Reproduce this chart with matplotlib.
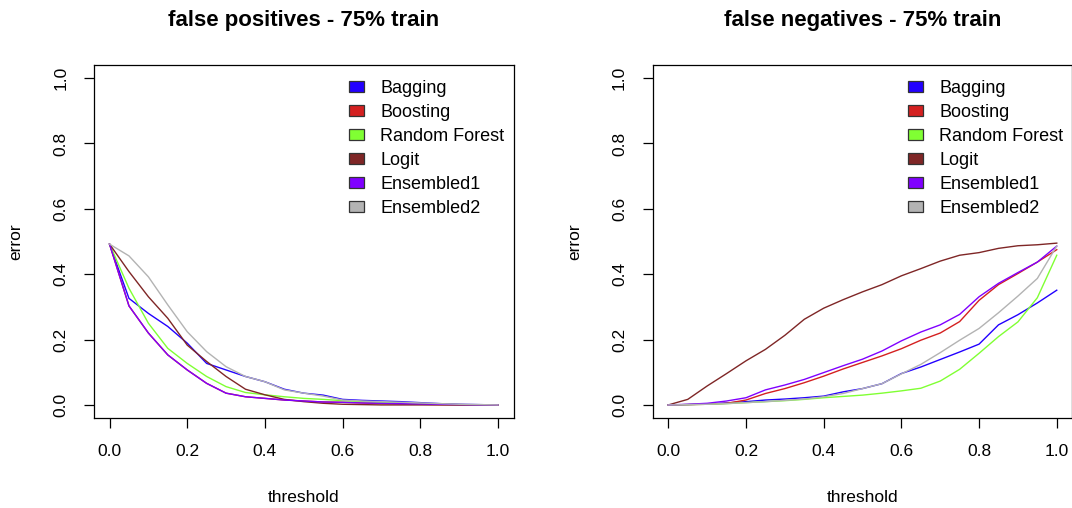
import numpy as np
import matplotlib.pyplot as plt
from matplotlib.patches import Patch

plt.rcParams['font.family'] = ['Liberation Sans', 'DejaVu Sans']

threshold = np.round(np.arange(0, 1.0001, 0.05), 2)
models = ["Bagging", "Boosting", "Random Forest", "Logit", "Ensembled1", "Ensembled2"]
colors = ["#2200ff", "#d42020", "#80ff33", "#7f2626", "#8000ff", "#b3b3b3"]

# false positives (left)
fp_bagging = [0.492, 0.326, 0.28, 0.24, 0.189, 0.127, 0.107, 0.087, 0.071, 0.048, 0.036,
              0.03, 0.017, 0.014, 0.012, 0.01, 0.007, 0.004, 0.002, 0.001, 0.0]
fp_boosting = [0.492, 0.303, 0.22, 0.153, 0.107, 0.066, 0.036, 0.025, 0.02, 0.015, 0.012,
               0.009, 0.008, 0.006, 0.004, 0.003, 0.002, 0.001, 0.0, 0.0, 0.0]
fp_rf = [0.492, 0.357, 0.25, 0.173, 0.127, 0.087, 0.056, 0.038, 0.031, 0.025, 0.02,
         0.017, 0.013, 0.01, 0.008, 0.006, 0.004, 0.002, 0.001, 0.0, 0.0]
fp_logit = [0.492, 0.408, 0.331, 0.265, 0.183, 0.133, 0.087, 0.048, 0.031, 0.017, 0.01,
            0.005, 0.002, 0.001, 0.0, 0.0, 0.0, 0.0, 0.0, 0.0, 0.0]
fp_ens1 = [0.492, 0.303, 0.22, 0.153, 0.107, 0.066, 0.036, 0.025, 0.02, 0.015, 0.012,
           0.009, 0.008, 0.006, 0.005, 0.004, 0.003, 0.002, 0.001, 0.0, 0.0]
fp_ens2 = [0.492, 0.456, 0.392, 0.306, 0.224, 0.163, 0.117, 0.087, 0.071, 0.046, 0.036,
           0.027, 0.015, 0.012, 0.01, 0.008, 0.006, 0.004, 0.002, 0.001, 0.0]

# false negatives (right)
fn_bagging = [0.0, 0.001, 0.003, 0.006, 0.01, 0.015, 0.018, 0.022, 0.027, 0.04, 0.05,
              0.065, 0.096, 0.116, 0.139, 0.162, 0.186, 0.245, 0.276, 0.312, 0.351]
fn_boosting = [0.0, 0.001, 0.002, 0.005, 0.015, 0.035, 0.05, 0.068, 0.088, 0.11, 0.13,
               0.15, 0.172, 0.198, 0.22, 0.255, 0.32, 0.368, 0.402, 0.437, 0.475]
fn_rf = [0.0, 0.001, 0.002, 0.004, 0.007, 0.01, 0.013, 0.017, 0.022, 0.026, 0.03,
         0.036, 0.043, 0.051, 0.073, 0.109, 0.158, 0.209, 0.254, 0.328, 0.458]
fn_logit = [0.0, 0.017, 0.058, 0.096, 0.135, 0.17, 0.213, 0.262, 0.296, 0.322, 0.346,
            0.368, 0.395, 0.417, 0.44, 0.458, 0.466, 0.479, 0.487, 0.49, 0.495]
fn_ens1 = [0.0, 0.002, 0.005, 0.012, 0.022, 0.046, 0.061, 0.078, 0.099, 0.12, 0.14,
           0.165, 0.196, 0.223, 0.245, 0.277, 0.331, 0.372, 0.405, 0.437, 0.486]
fn_ens2 = [0.0, 0.001, 0.002, 0.004, 0.007, 0.01, 0.014, 0.018, 0.025, 0.035, 0.05,
           0.065, 0.095, 0.124, 0.16, 0.198, 0.234, 0.282, 0.333, 0.387, 0.486]

panels = [
    ("false positives - 75% train",
     [fp_bagging, fp_boosting, fp_rf, fp_logit, fp_ens1, fp_ens2]),
    ("false negatives - 75% train",
     [fn_bagging, fn_boosting, fn_rf, fn_logit, fn_ens1, fn_ens2]),
]

W, H = 1072, 508
fig = plt.figure(figsize=(W / 100, H / 100), dpi=100)
lefts = [94, 652.8]
for (title, series), lpx in zip(panels, lefts):
    ax = fig.add_axes([lpx / W, (H - 418) / H, 419.5 / W, 353 / H])
    for vals, c in zip(series, colors):
        ax.plot(threshold, vals, color=c, lw=1.0)
    ax.set_xlim(-0.04, 1.04)
    ax.set_ylim(-0.04, 1.04)
    ticks = [0.0, 0.2, 0.4, 0.6, 0.8, 1.0]
    ax.set_xticks(ticks)
    ax.set_yticks(ticks)
    ax.set_xticklabels(["%.1f" % t for t in ticks])
    ax.set_yticklabels(["%.1f" % t for t in ticks], rotation=90, va='center')
    ax.tick_params(length=7.5, width=0.9, labelsize=12.5, pad=11)
    for s in ax.spines.values():
        s.set_linewidth(0.9)
    ax.set_title(title, fontsize=16, fontweight='bold', pad=28)
    ax.set_xlabel("threshold", fontsize=12.5)
    ax.set_ylabel("error", fontsize=12.5)
    ax.xaxis.set_label_coords(0.5, -0.205)
    ax.yaxis.set_label_coords(-0.169, 0.5)
    handles = [Patch(facecolor=c, edgecolor='#333333', linewidth=0.9) for c in colors]
    ax.legend(handles, models, loc='upper left', bbox_to_anchor=(0.617, 0.995),
              bbox_transform=ax.transData, frameon=False, fontsize=13,
              borderpad=0, borderaxespad=0, handlelength=0.82, handleheight=0.62,
              handletextpad=0.9, labelspacing=0.39)

fig.savefig("out.png", dpi=100)
